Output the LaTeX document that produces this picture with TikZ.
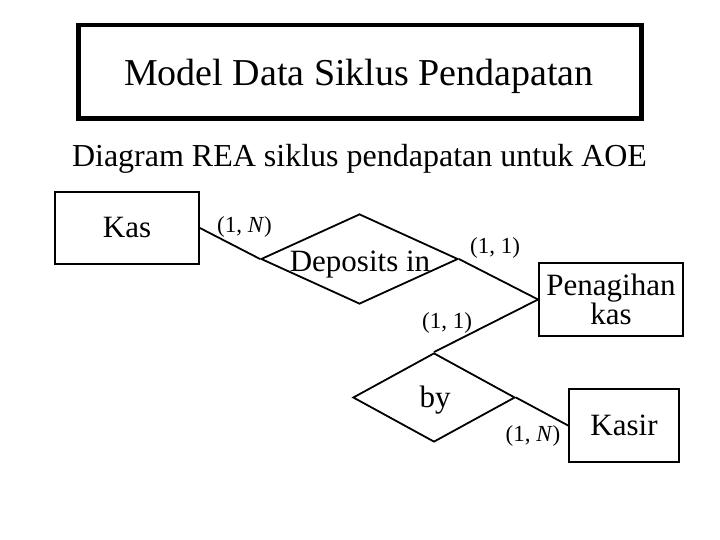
\documentclass[tikz,border=0pt]{standalone}
\usepackage{fontspec}
\setmainfont{LiberationSerif}[Extension=.ttf, UprightFont=*-Regular, ItalicFont=*-Italic, BoldFont=*-Bold, BoldItalicFont=*-BoldItalic]
\usetikzlibrary{shapes.geometric}
\begin{document}
\begin{tikzpicture}[x=1pt,y=-1pt,
  ent/.style={draw, line width=1.8pt, rectangle, inner sep=0pt, font=\rmfamily\fontsize{31}{29}\selectfont, align=center},
  rel/.style={draw, line width=1.8pt, diamond, inner sep=0pt},
  rellabel/.style={anchor=base, inner sep=0pt, font=\rmfamily\fontsize{31}{29}\selectfont},
  card/.style={anchor=base, inner sep=0pt, font=\rmfamily\fontsize{23}{26}\selectfont},
  conn/.style={line width=1.8pt}]
\useasboundingbox (0,0) rectangle (720,540);
% title
\node[draw, line width=4.5pt, minimum width=563pt, minimum height=93.5pt, inner sep=0pt] (titlebox) at (360,71.75) {};
\node[anchor=base, inner sep=0pt, font=\rmfamily\fontsize{38}{40}\selectfont] (titletext) at (359,86) {Model Data Siklus Pendapatan};
\node[anchor=base, inner sep=0pt, font=\rmfamily\fontsize{32}{34}\selectfont] (subtitle) at (359.5,167) {Diagram REA siklus pendapatan untuk AOE};
% entities
\node[ent, minimum width=144pt, minimum height=72pt] (kas) at (127,228) {Kas};
\node[ent, minimum width=144pt, minimum height=73pt] (pen) at (611,299.5) {Penagihan\\kas};
\node[ent, minimum width=110pt, minimum height=73pt] (kasir) at (624,425.5) {Kasir};
% relationships
\node[rel, minimum width=197pt, minimum height=90pt] (dep) at (359.5,259) {};
\node[rellabel] (deptext) at (360,271) {Deposits in};
\node[rel, minimum width=162pt, minimum height=89pt] (by) at (434,397.5) {};
\node[rellabel] (bytext) at (435,407) {by};
% connectors
\draw[conn] (kas.east) -- (dep.west);
\draw[conn] (dep.east) -- (pen.west);
\draw[conn] (pen.west) -- (by.north);
\draw[conn] (by.east) -- (kasir.west);
% cardinalities
\node[card] (c1) at (244.5,233) {(1, \textit{N})};
\node[card] (c2) at (495,254) {(1, 1)};
\node[card] (c3) at (447,328) {(1, 1)};
\node[card] (c4) at (533,441) {(1, \textit{N})};
\end{tikzpicture}
\end{document}
